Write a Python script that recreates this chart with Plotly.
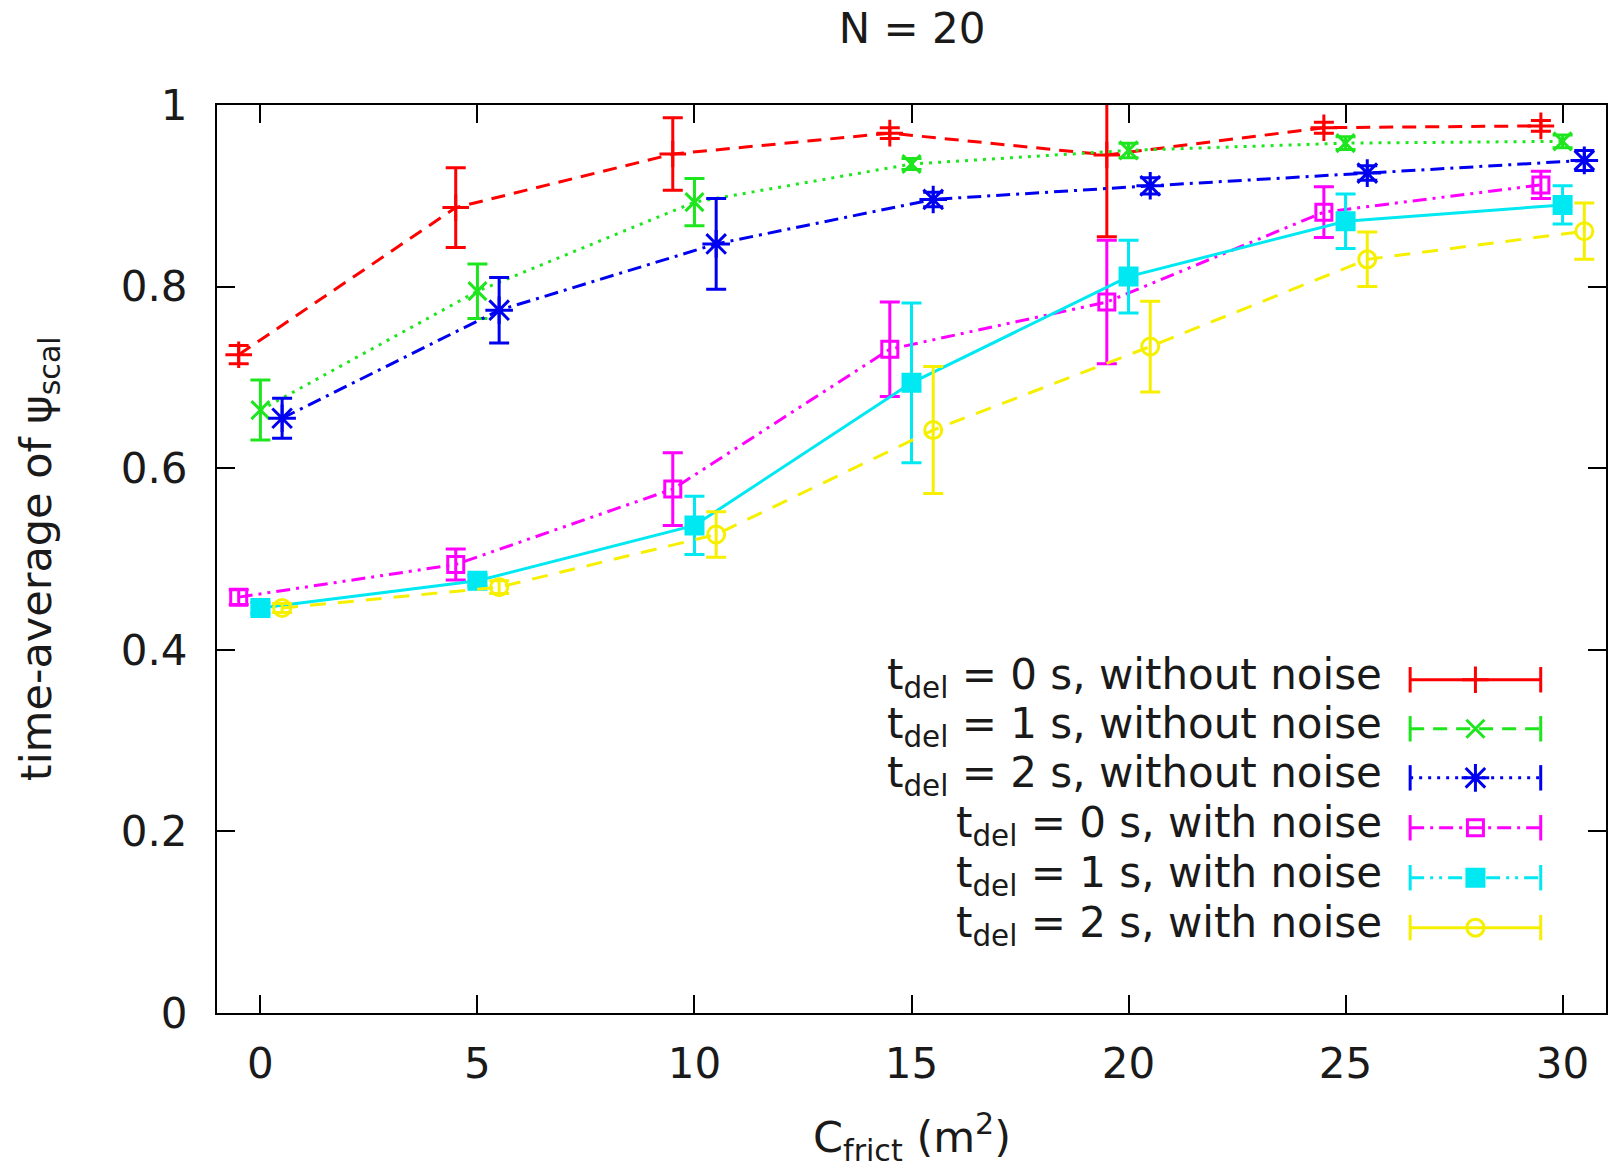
import plotly.graph_objects as go

# ---------------- data ----------------
c_frict = [0, 5, 10, 15, 20, 25, 30]
x_offsets = [-0.5, 0.0, 0.5, -0.5, 0.0, 0.5]

labels = [
    "t<sub>del</sub> = 0 s, without noise",
    "t<sub>del</sub> = 1 s, without noise",
    "t<sub>del</sub> = 2 s, without noise",
    "t<sub>del</sub> = 0 s, with noise",
    "t<sub>del</sub> = 1 s, with noise",
    "t<sub>del</sub> = 2 s, with noise",
]

y_t0_nonoise = [0.725, 0.887, 0.946, 0.969, 0.945, 0.975, 0.977]
e_t0_nonoise_up = [0.010, 0.044, 0.040, 0.006, 0.057, 0.006, 0.006]
e_t0_nonoise_dn = [0.010, 0.044, 0.040, 0.006, 0.090, 0.006, 0.006]

y_t1_nonoise = [0.664, 0.795, 0.893, 0.935, 0.950, 0.958, 0.960]
e_t1_nonoise = [0.033, 0.030, 0.026, 0.006, 0.008, 0.007, 0.007]

y_t2_nonoise = [0.655, 0.774, 0.847, 0.896, 0.911, 0.925, 0.939]
e_t2_nonoise = [0.022, 0.036, 0.050, 0.008, 0.009, 0.008, 0.011]

y_t0_noise = [0.458, 0.494, 0.577, 0.731, 0.783, 0.882, 0.912]
e_t0_noise = [0.008, 0.017, 0.040, 0.052, 0.068, 0.028, 0.015]

y_t1_noise = [0.446, 0.476, 0.537, 0.694, 0.811, 0.872, 0.890]
e_t1_noise = [0.006, 0.006, 0.032, 0.088, 0.040, 0.030, 0.021]

y_t2_noise = [0.446, 0.469, 0.527, 0.642, 0.734, 0.830, 0.861]
e_t2_noise = [0.005, 0.007, 0.025, 0.070, 0.050, 0.030, 0.031]

series_y = [y_t0_nonoise, y_t1_nonoise, y_t2_nonoise, y_t0_noise, y_t1_noise, y_t2_noise]
series_up = [e_t0_nonoise_up, e_t1_nonoise, e_t2_nonoise, e_t0_noise, e_t1_noise, e_t2_noise]
series_dn = [e_t0_nonoise_dn, e_t1_nonoise, e_t2_nonoise, e_t0_noise, e_t1_noise, e_t2_noise]

x_ticks = [0, 5, 10, 15, 20, 25, 30]
y_ticks = [0, 0.2, 0.4, 0.6, 0.8, 1.0]
y_tick_text = ["0", "0.2", "0.4", "0.6", "0.8", "1"]

# ---------------- styles ----------------
colors = ["#ff0000", "#1ee61e", "#0000f0", "#ff00ff", "#00e8f2", "#f6f000"]
plot_dash = ["14px,9px", "3px,6px", "14px,6px,3px,6px", "14px,6px,3px,6px,3px,6px", "solid", "16px,12px"]
legend_dash = ["solid", "14px,9px", "3px,6px", "14px,6px,3px,6px", "14px,6px,3px,6px,3px,6px", "solid"]
symbols = ["cross-thin", "x-thin", "asterisk", "square-open", "square", "circle-open"]
msizes = [19, 18, 23, 16, 17, 17]

FONT = "DejaVu Sans"
TXT = "#1a1a1a"

fig = go.Figure()

for i in range(6):
    xs = [c + x_offsets[i] for c in c_frict]
    fig.add_trace(go.Scatter(
        x=xs, y=series_y[i], mode="lines+markers", name=labels[i], showlegend=False,
        line=dict(color=colors[i], width=3, dash=plot_dash[i]),
        marker=dict(symbol=symbols[i], size=msizes[i], color=colors[i],
                    line=dict(color=colors[i], width=3)),
        error_y=dict(type="data", symmetric=False, array=series_up[i],
                     arrayminus=series_dn[i], color=colors[i], thickness=3, width=10),
    ))

# ---------------- custom legend (text right, sample left) ----------------
row_y = [0.367, 0.313, 0.259, 0.204, 0.149, 0.094]
lx1, lxm, lx2 = 0.859, 0.906, 0.953
text_right = 0.8405
for i in range(6):
    fig.add_trace(go.Scatter(
        x=[lx1, lx2], y=[row_y[i], row_y[i]], xaxis="x2", yaxis="y2",
        mode="lines", showlegend=False, hoverinfo="skip",
        line=dict(color=colors[i], width=3, dash=legend_dash[i]),
        error_y=dict(type="constant", value=0.014, color=colors[i], thickness=3, width=0),
    ))
    fig.add_trace(go.Scatter(
        x=[lxm], y=[row_y[i]], xaxis="x2", yaxis="y2",
        mode="markers", showlegend=False, hoverinfo="skip",
        marker=dict(symbol=symbols[i], size=msizes[i], color=colors[i],
                    line=dict(color=colors[i], width=3)),
    ))
    fig.add_annotation(
        x=text_right, y=row_y[i], xref="paper", yref="paper", text=labels[i],
        showarrow=False, xanchor="right", yanchor="middle", yshift=2,
        font=dict(family=FONT, size=42, color=TXT),
    )

# axis titles
fig.add_annotation(
    x=-0.128, y=0.5, xref="paper", yref="paper", textangle=-90,
    text="time-average of \u03c8<sub>scal</sub>", showarrow=False,
    xanchor="center", yanchor="middle", font=dict(family=FONT, size=43, color=TXT),
)
fig.add_annotation(
    x=0.5, y=-0.137, xref="paper", yref="paper",
    text="C<sub>frict</sub> (m<sup>2</sup>)", showarrow=False,
    xanchor="center", yanchor="middle", font=dict(family=FONT, size=43, color=TXT),
)

fig.update_layout(
    width=1610, height=1172, autosize=False,
    margin=dict(l=217, r=2, t=105, b=159),
    paper_bgcolor="white", plot_bgcolor="white",
    title=dict(text="N = 20", x=0.5665, xanchor="center", y=0.976, yanchor="middle",
               font=dict(family=FONT, size=42, color=TXT)),
    xaxis=dict(range=[-1, 31], tickvals=x_ticks, ticks="inside", ticklen=18, tickwidth=2,
               tickcolor="black", showline=True, linecolor="black", linewidth=2,
               mirror="ticks", showgrid=False, zeroline=False,
               tickfont=dict(family=FONT, size=42, color=TXT), ticklabelstandoff=13),
    yaxis=dict(range=[0, 1], tickvals=y_ticks, ticktext=y_tick_text, ticks="inside",
               ticklen=18, tickwidth=2, tickcolor="black", showline=True, linecolor="black",
               linewidth=2, mirror="ticks", showgrid=False, zeroline=False,
               tickfont=dict(family=FONT, size=42, color=TXT), ticklabelstandoff=19),
    xaxis2=dict(range=[0, 1], overlaying="x", visible=False, fixedrange=True),
    yaxis2=dict(range=[0, 1], overlaying="y", visible=False, fixedrange=True),
    showlegend=False,
)

fig.write_html(
    "out.html",
    config={"displayModeBar": False},
    post_script="document.body.style.margin='0px';document.body.style.overflow='hidden';",
)
